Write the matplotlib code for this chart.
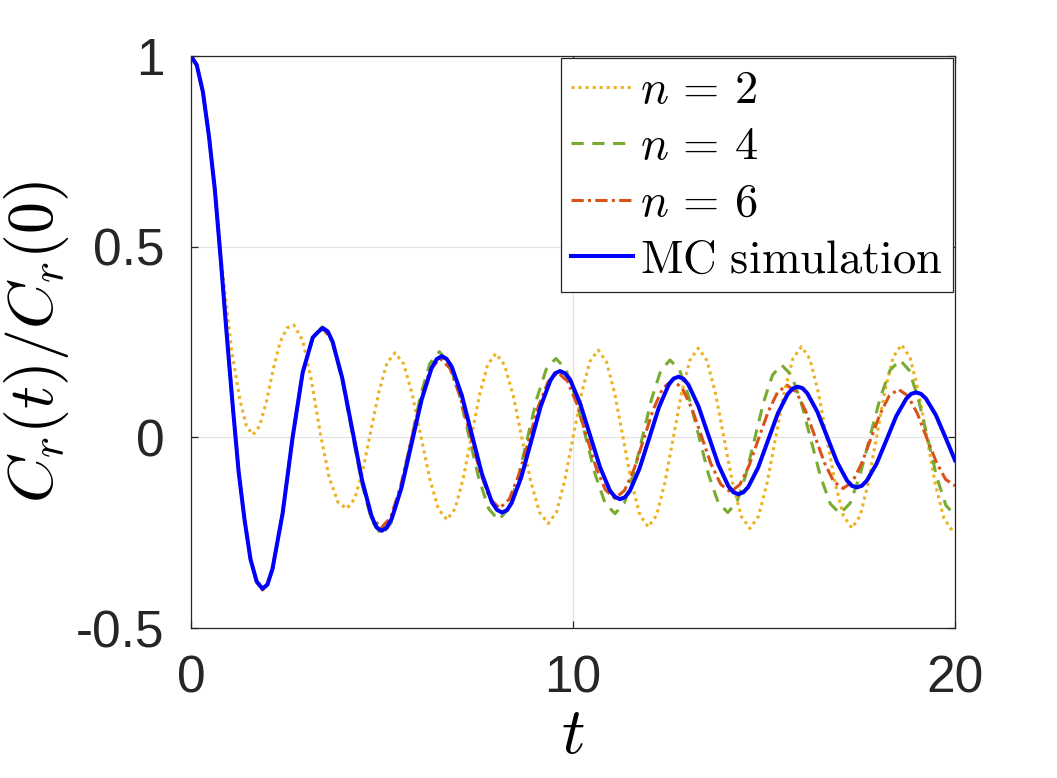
import matplotlib
matplotlib.use('Agg')
import matplotlib.pyplot as plt

# curves (t, C_r(t)/C_r(0))
mc_t = [0, 0.15, 0.312, 0.47, 0.623, 0.78, 0.935, 1.09, 1.247, 1.40, 1.558, 1.72, 1.87,
        2.0, 2.133, 2.397, 2.66, 2.923, 3.187, 3.32, 3.45,
        3.58, 3.707, 3.963, 4.22, 4.477, 4.733, 4.86, 4.99,
        5.12, 5.252, 5.513, 5.775, 6.037, 6.298, 6.43, 6.56,
        6.69, 6.823, 7.087, 7.35, 7.613, 7.877, 8.01, 8.14,
        8.27, 8.393, 8.647, 8.9, 9.153, 9.407, 9.53, 9.66,
        9.79, 9.922, 10.183, 10.445, 10.707, 10.968, 11.1, 11.23,
        11.36, 11.485, 11.74, 11.995, 12.25, 12.505, 12.63, 12.76,
        12.89, 13.022, 13.283, 13.545, 13.807, 14.068, 14.2, 14.33,
        14.46, 14.588, 14.847, 15.105, 15.363, 15.622, 15.75, 15.88,
        16.01, 16.138, 16.397, 16.655, 16.913, 17.172, 17.3, 17.43,
        17.56, 17.688, 17.947, 18.205, 18.463, 18.722, 18.85, 18.98,
        19.11, 19.238, 19.497, 19.755, 20.0]
mc_y = [1.0, 0.977, 0.906, 0.79, 0.651, 0.465, 0.27, 0.085, -0.09, -0.215, -0.32, -0.378, -0.397,
        -0.386, -0.345, -0.2, 0.0, 0.17, 0.262, 0.276, 0.287,
        0.278, 0.251, 0.154, 0.021, -0.112, -0.209, -0.236, -0.245,
        -0.237, -0.214, -0.131, -0.016, 0.099, 0.182, 0.205, 0.213,
        0.206, 0.186, 0.111, 0.008, -0.095, -0.170, -0.190, -0.197,
        -0.191, -0.172, -0.104, -0.012, 0.081, 0.149, 0.168, 0.174,
        0.168, 0.152, 0.090, 0.006, -0.078, -0.140, -0.156, -0.162,
        -0.157, -0.141, -0.082, -0.002, 0.079, 0.138, 0.154, 0.159,
        0.154, 0.138, 0.082, 0.005, -0.072, -0.128, -0.144, -0.149,
        -0.144, -0.130, -0.079, -0.008, 0.063, 0.114, 0.128, 0.133,
        0.129, 0.115, 0.067, 0.001, -0.065, -0.113, -0.127, -0.131,
        -0.127, -0.114, -0.069, -0.007, 0.056, 0.101, 0.114, 0.118,
        0.114, 0.102, 0.059, -0.001, -0.060]

n6_t = [0, 0.15, 0.312, 0.47, 0.623, 0.78, 0.935, 1.09, 1.247, 1.40, 1.558, 1.72, 1.87,
        2.0, 2.133, 2.397, 2.66, 2.923, 3.187, 3.45,
        3.703, 3.957, 4.21, 4.463, 4.717, 4.97,
        5.228, 5.487, 5.745, 6.003, 6.262, 6.52,
        6.78, 7.04, 7.3, 7.56, 7.82, 8.08,
        8.333, 8.587, 8.84, 9.093, 9.347, 9.6,
        9.85, 10.1, 10.35, 10.6, 10.85, 11.1,
        11.35, 11.6, 11.85, 12.1, 12.35, 12.6,
        12.853, 13.107, 13.36, 13.613, 13.867, 14.12,
        14.367, 14.613, 14.86, 15.107, 15.353, 15.6,
        15.845, 16.09, 16.335, 16.58, 16.825, 17.07,
        17.312, 17.553, 17.795, 18.037, 18.278, 18.52,
        18.767, 19.013, 19.26, 19.507, 19.753, 20.0]
n6_y = [1.0, 0.977, 0.906, 0.79, 0.651, 0.465, 0.27, 0.085, -0.09, -0.215, -0.32, -0.38, -0.40,
        -0.388, -0.345, -0.2, 0.0, 0.17, 0.262, 0.287,
        0.252, 0.156, 0.024, -0.108, -0.204, -0.239,
        -0.209, -0.128, -0.016, 0.096, 0.177, 0.207,
        0.181, 0.109, 0.011, -0.088, -0.160, -0.186,
        -0.162, -0.097, -0.008, 0.081, 0.146, 0.17,
        0.148, 0.088, 0.005, -0.078, -0.138, -0.16,
        -0.139, -0.083, -0.005, 0.073, 0.129, 0.15,
        0.130, 0.077, 0.004, -0.070, -0.123, -0.143,
        -0.124, -0.073, -0.003, 0.067, 0.118, 0.137,
        0.119, 0.069, 0.002, -0.066, -0.116, -0.134,
        -0.117, -0.069, -0.004, 0.061, 0.109, 0.126,
        0.109, 0.063, -0.001, -0.064, -0.110, -0.127]

n4_t = [0, 0.15, 0.312, 0.47, 0.623, 0.78, 0.935, 1.09, 1.247, 1.40, 1.558, 1.72, 1.87,
        2.0, 2.133, 2.397, 2.66, 2.923, 3.187, 3.43,
        3.69, 3.95, 4.21, 4.47, 4.73, 4.99,
        5.242, 5.493, 5.745, 5.997, 6.248, 6.5,
        6.758, 7.017, 7.275, 7.533, 7.792, 8.05,
        8.3, 8.55, 8.8, 9.05, 9.3, 9.55,
        9.808, 10.067, 10.325, 10.583, 10.842, 11.1,
        11.34, 11.58, 11.82, 12.06, 12.3, 12.54,
        12.792, 13.043, 13.295, 13.547, 13.798, 14.05,
        14.285, 14.52, 14.755, 14.99, 15.225, 15.46,
        15.715, 15.97, 16.225, 16.48, 16.735, 16.99,
        17.252, 17.513, 17.775, 18.037, 18.298, 18.56,
        18.8, 19.04, 19.28, 19.52, 19.76, 20.0]
n4_y = [1.0, 0.977, 0.906, 0.79, 0.651, 0.465, 0.27, 0.085, -0.09, -0.215, -0.32, -0.38, -0.40,
        -0.388, -0.345, -0.2, 0.0, 0.17, 0.262, 0.29,
        0.253, 0.154, 0.017, -0.120, -0.219, -0.256,
        -0.224, -0.136, -0.016, 0.105, 0.193, 0.225,
        0.195, 0.115, 0.004, -0.107, -0.187, -0.217,
        -0.189, -0.111, -0.005, 0.101, 0.179, 0.207,
        0.180, 0.105, 0.004, -0.098, -0.173, -0.2,
        -0.173, -0.099, 0.002, 0.102, 0.176, 0.203,
        0.176, 0.103, 0.003, -0.097, -0.170, -0.197,
        -0.171, -0.100, -0.004, 0.093, 0.164, 0.19,
        0.164, 0.093, -0.005, -0.103, -0.174, -0.2,
        -0.173, -0.099, 0.002, 0.102, 0.176, 0.203,
        0.176, 0.101, -0.001, -0.103, -0.178, -0.205]

n2_t = [0, 0.15, 0.312, 0.47, 0.623, 0.8, 1.06, 1.28, 1.45, 1.62,
        1.798, 1.977, 2.155, 2.333, 2.512, 2.69,
        2.922, 3.153, 3.385, 3.617, 3.848, 4.08,
        4.29, 4.5, 4.71, 4.92, 5.13, 5.34,
        5.567, 5.793, 6.02, 6.247, 6.473, 6.7,
        6.913, 7.127, 7.34, 7.553, 7.767, 7.98,
        8.208, 8.437, 8.665, 8.893, 9.122, 9.35,
        9.568, 9.787, 10.005, 10.223, 10.442, 10.66,
        10.878, 11.097, 11.315, 11.533, 11.752, 11.97,
        12.188, 12.407, 12.625, 12.843, 13.062, 13.28,
        13.505, 13.73, 13.955, 14.18, 14.405, 14.63,
        14.855, 15.08, 15.305, 15.53, 15.755, 15.98,
        16.2, 16.42, 16.64, 16.86, 17.08, 17.3,
        17.517, 17.733, 17.95, 18.167, 18.383, 18.6,
        18.822, 19.043, 19.265, 19.487, 19.708, 19.93, 20.0]
n2_y = [1.0, 0.977, 0.906, 0.79, 0.651, 0.46, 0.23, 0.098, 0.03, 0.007,
        0.03, 0.095, 0.18, 0.25, 0.287, 0.295,
        0.255, 0.15, 0.01, -0.105, -0.17, -0.187,
        -0.160, -0.085, 0.018, 0.120, 0.195, 0.222,
        0.193, 0.113, 0.003, -0.107, -0.187, -0.216,
        -0.187, -0.107, 0.002, 0.111, 0.191, 0.22,
        0.190, 0.109, -0.003, -0.115, -0.196, -0.226,
        -0.196, -0.112, 0.002, 0.115, 0.199, 0.229,
        0.198, 0.113, -0.003, -0.119, -0.204, -0.235,
        -0.204, -0.118, -0.001, 0.117, 0.203, 0.234,
        0.202, 0.116, -0.003, -0.121, -0.207, -0.239,
        -0.207, -0.120, 0.0, 0.119, 0.206, 0.238,
        0.206, 0.119, 0.0, -0.119, -0.206, -0.238,
        -0.206, -0.118, 0.003, 0.123, 0.211, 0.243,
        0.210, 0.121, -0.001, -0.123, -0.212, -0.245, -0.244]

x_ticks = [0, 10, 20]
y_ticks = [-0.5, 0, 0.5, 1]
y_tick_labels = ['-0.5', '0', '0.5', '1']

plt.rcParams['mathtext.fontset'] = 'cm'
plt.rcParams['axes.unicode_minus'] = False

fig = plt.figure(figsize=(10.57, 7.78), dpi=100)
ax = fig.add_axes([0.1807, 0.1928, 0.7228, 0.735])

# matlab default colour order, blue for the simulation
common = dict(solid_joinstyle='round', dash_joinstyle='round')
ax.plot(n2_t, n2_y, color='#EDB120', lw=2.2, ls=(0, (1, 1.3)), label=r'$n\,=\,2$', **common)
ax.plot(n4_t, n4_y, color='#77AC30', lw=2.2, ls=(0, (4, 2.8)), label=r'$n\,=\,4$', **common)
ax.plot(n6_t, n6_y, color='#D95319', lw=2.2, ls=(0, (4, 1.4, 1, 1.4)), label=r'$n\,=\,6$', **common)
ax.plot(mc_t, mc_y, color='#0000FF', lw=2.9, label=r'$\mathrm{MC\ simulation}$', **common)

ax.set_xlim(0, 20)
ax.set_ylim(-0.5, 1)
ax.set_xticks(x_ticks)
ax.set_yticks(y_ticks)
ax.set_yticklabels(y_tick_labels)
ax.grid(True, color='#e3e3e3', lw=0.9)
ax.set_axisbelow(True)

for spine in ax.spines.values():
    spine.set_color('#262626')
    spine.set_linewidth(0.9)
ax.tick_params(direction='in', length=5, width=0.9, color='#262626',
               top=True, right=True, labelsize=37, labelcolor='#262626', pad=19)
for lab in ax.get_xticklabels() + ax.get_yticklabels():
    lab.set_family('Liberation Sans')

ax.set_xlabel(r'$t$', fontsize=47, labelpad=0)
ax.set_ylabel(r'$C_r(t)/C_r(0)$', fontsize=46, labelpad=4)

leg = ax.legend(loc='upper right', fontsize=33.5, frameon=True, fancybox=False,
                framealpha=1, edgecolor='#262626', borderaxespad=0.05,
                handlelength=1.35, handletextpad=0.15, labelspacing=0.25,
                borderpad=0.2)
leg.get_frame().set_linewidth(0.9)

fig.savefig('out.png', dpi=100)
